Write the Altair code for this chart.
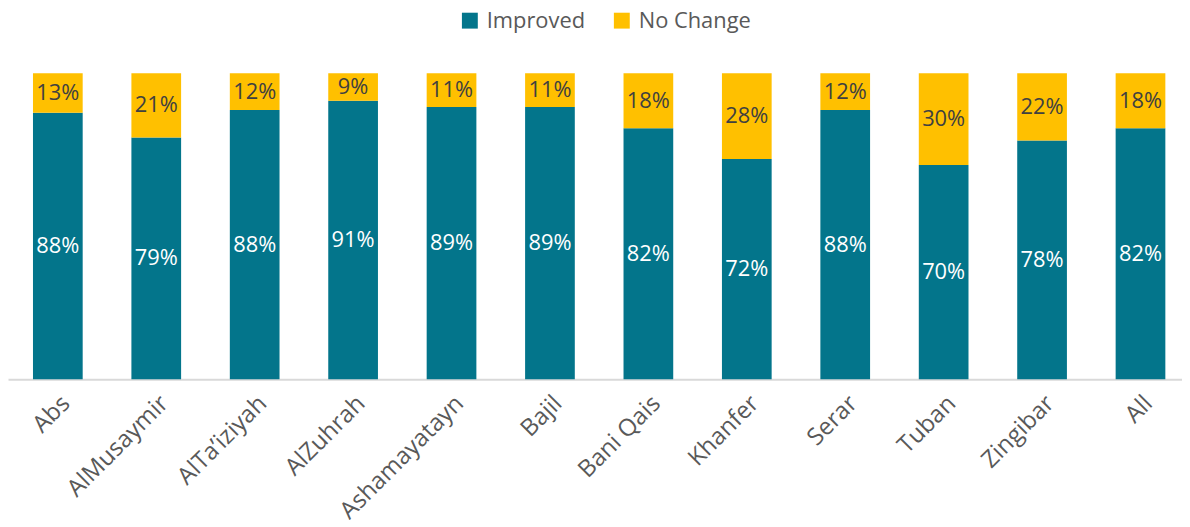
import altair as alt
import pandas as pd

categories = ["Abs", "AlMusaymir", "AlTa\u2019iziyah", "AlZuhrah", "Ashamayatayn", "Bajil",
              "Bani Qais", "Khanfer", "Serar", "Tuban", "Zingibar", "All"]
improved = [88, 79, 88, 91, 89, 89, 82, 72, 88, 70, 78, 82]
no_change = [13, 21, 12, 9, 11, 11, 18, 28, 12, 30, 22, 18]
series = ["Improved", "No Change"]
colors = ["#03758B", "#FFC000"]

rows = []
for c, a, b in zip(categories, improved, no_change):
    rows.append({"cat": c, "series": "Improved", "value": a, "ord": 0})
    rows.append({"cat": c, "series": "No Change", "value": b, "ord": 1})
df = pd.DataFrame(rows)

FONT = "Open Sans"

base = alt.Chart(df).transform_stack(
    stack="value", groupby=["cat"], as_=["y0", "y1"], offset="normalize",
    sort=[alt.SortField("ord", order="ascending")]
).transform_calculate(
    mid="(datum.y0 + datum.y1) / 2",
    label="datum.value + '%'"
)

x = alt.X("cat:N", sort=categories, title=None,
          scale=alt.Scale(paddingInner=0.495, paddingOuter=0.2115, align=0.6, round=False),
          axis=alt.Axis(labelAngle=-45, labelFontSize=24, labelFont=FONT,
                        labelColor="#595959", ticks=False, domainColor="#D9D9D9",
                        domainWidth=2, labelPadding=12))

bars = base.mark_bar().encode(
    x=x,
    y=alt.Y("y0:Q", scale=alt.Scale(domain=[0, 1]), axis=None),
    y2="y1:Q",
    color=alt.Color("series:N", scale=alt.Scale(domain=series, range=colors),
                    legend=alt.Legend(orient="none", legendX=454, legendY=-64,
                                      direction="horizontal", title=None, labelFontSize=22,
                                      labelFont=FONT, labelColor="#595959",
                                      symbolType="square", symbolSize=256,
                                      symbolStrokeWidth=0, columnPadding=26,
                                      labelOffset=6))
)

texts = base.mark_text(fontSize=22, font=FONT).encode(
    x=alt.X("cat:N", sort=categories),
    y=alt.Y("mid:Q"),
    text="label:N",
    fill=alt.condition(alt.datum.series == "Improved", alt.value("#FFFFFF"), alt.value("#404040"))
)

chart = alt.layer(bars, texts).properties(
    width=1182, height=308,
    padding={"left": 0, "right": 0, "top": 64, "bottom": 140},
    autosize=alt.AutoSizeParams(type="none")
).configure_view(stroke=None)

chart.save("out.html", embed_options={"renderer": "svg", "actions": False})
